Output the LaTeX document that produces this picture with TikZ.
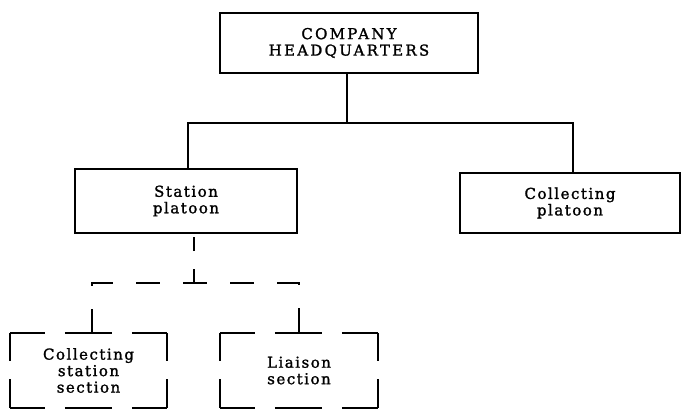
\documentclass[tikz,border=0pt]{standalone}
\usepackage{fontspec}
\setmainfont{DejaVu Serif}[LetterSpace=10,FakeBold=1.5]
\usetikzlibrary{calc}
\tikzstyle{unit}=[rectangle,draw=black,line width=1.8pt,inner sep=0pt,align=center,font=\fontsize{15}{16.5}\selectfont]
\tikzstyle{section}=[rectangle,inner sep=0pt,align=center,font=\fontsize{15}{16.5}\selectfont]
\tikzstyle{solidline}=[line width=1.8pt]
\tikzstyle{dashline}=[line width=1.8pt,dash pattern=on 24pt off 23pt]
\tikzstyle{stemline}=[line width=1.8pt,dash pattern=on 14pt off 18pt]
\tikzstyle{sideh}=[line width=1.8pt,dash pattern=on 47pt off 20pt,dash phase=12pt]
\tikzstyle{sidev}=[line width=1.8pt,dash pattern=on 28.5pt off 18pt]
% dashed outline of a section box
\newcommand{\sectionframe}[1]{%
  \draw[sideh] (#1.north west) -- (#1.north east);
  \draw[sideh] (#1.south west) -- (#1.south east);
  \draw[sidev] (#1.north west) -- (#1.south west);
  \draw[sidev] (#1.north east) -- (#1.south east);}
\begin{document}
\begin{tikzpicture}[x=1pt,y=-1pt]
    \useasboundingbox (0,0) rectangle (682,409);
    % units
    \node [unit,minimum width=258pt,minimum height=60pt,font=\fontsize{15}{16.5}\selectfont\addfontfeatures{LetterSpace=15}] (hq) at (349,43)  {COMPANY\\HEADQUARTERS};
    \node [unit,minimum width=222pt,minimum height=64pt] (sp) at (186,201) {Station\\platoon};
    \node [unit,minimum width=220pt,minimum height=60pt] (cp) at (570,203) {Collecting\\platoon};
    % sections
    \node [section,minimum width=157pt,minimum height=75pt] (css) at (88.5,370.5) {Collecting\\station\\section};
    \node [section,minimum width=158pt,minimum height=75pt] (ls) at (299,370.5)  {Liaison\\section};
    \sectionframe{css}
    \sectionframe{ls}

    \coordinate (top) at (347,123);
    \coordinate (sj)  at (194,283);
    \draw [solidline] (hq.south -| top) -- (top);
    \draw [solidline] (sp.north -| 188,0) |- (top) -| (cp.north -| 573,0);
    \draw [stemline] (sj) -- (sp.south -| sj);
    \draw [dashline] (css.north -| 92,0) |- (sj) -| (ls.north);
\end{tikzpicture}
\end{document}
